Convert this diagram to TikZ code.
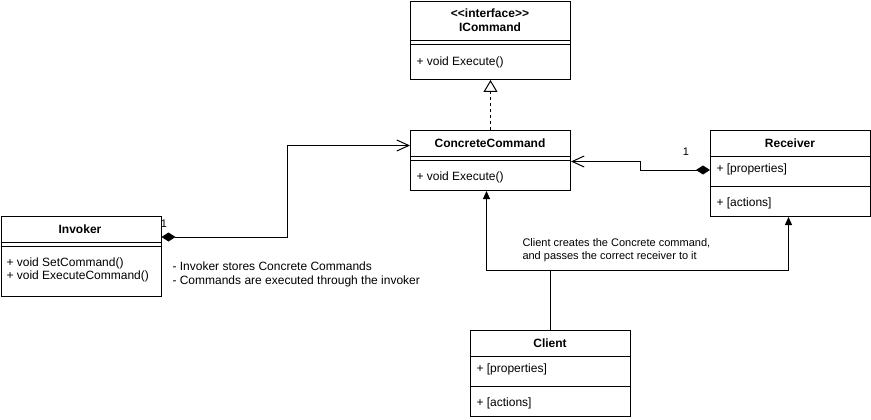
\documentclass[tikz,border=0pt]{standalone}
\usepackage{fontspec}
\setmainfont{Liberation Sans}
\usetikzlibrary{arrows.meta,positioning}

\begin{document}
\begin{tikzpicture}[
    x=1pt, y=-1pt,
    line width=1pt,
    font=\fontsize{12}{14}\selectfont,
    classbox/.style={rectangle, draw=black, anchor=north west, minimum width=160pt, inner sep=0pt},
    classname/.style={font=\fontsize{12}{14}\selectfont\bfseries, align=center, inner sep=0pt},
    member/.style={anchor=west, align=left, inner sep=0pt},
    note/.style={anchor=west, align=left, inner sep=0pt},
    mult/.style={font=\fontsize{11}{13}\selectfont, inner sep=0pt},
    realize/.style={dash pattern=on 3pt off 3pt, -{Triangle[open, length=12pt, width=14pt]}},
    compose/.style={{Diamond[length=14pt, width=9pt]}-{Straight Barb[length=12pt, width=11pt]}},
    uses/.style={-{Triangle[length=8pt, width=7pt]}}
]
\useasboundingbox (0,0) rectangle (871,420);
% Interface
\node[classbox, minimum height=78pt] (icommand) at (410,1) {};
\node[classname] (icommandname) at (490,20) {\textless\kern0pt\textless interface\textgreater\kern0pt\textgreater\\ICommand};
\draw ([yshift=-40pt]icommand.north west) -- ([yshift=-40pt]icommand.north east);
\draw ([yshift=-44pt]icommand.north west) -- ([yshift=-44pt]icommand.north east);
\node[member] (icommandexec) at (416,62) {+ void Execute()};
% Concrete command
\node[classbox, minimum height=60pt] (concrete) at (410,130) {};
\node[classname] (concretename) at (490,143) {ConcreteCommand};
\draw ([yshift=-26pt]concrete.north west) -- ([yshift=-26pt]concrete.north east);
\draw ([yshift=-30pt]concrete.north west) -- ([yshift=-30pt]concrete.north east);
\node[member] (concreteexec) at (416,177) {+ void Execute()};
% Receiver
\node[classbox, minimum height=86pt] (receiver) at (710,130) {};
\node[classname] (receivername) at (790,143) {Receiver};
\draw ([yshift=-26pt]receiver.north west) -- ([yshift=-26pt]receiver.north east);
\node[member] (receiverprops) at (716,169) {+ [properties]};
\draw ([yshift=-56pt]receiver.north west) -- ([yshift=-56pt]receiver.north east);
\node[member] (receiveracts) at (716,203) {+ [actions]};
% Invoker
\node[classbox, minimum height=80pt] (invoker) at (0.5,216) {};
\node[classname] (invokername) at (80,229) {Invoker};
\draw ([yshift=-26pt]invoker.north west) -- ([yshift=-26pt]invoker.north east);
\draw ([yshift=-30pt]invoker.north west) -- ([yshift=-30pt]invoker.north east);
\node[member, font=\fontsize{12}{13.5}\selectfont] (invokerops) at (6,270) {+ void SetCommand()\\+ void ExecuteCommand()};
% Client
\node[classbox, minimum height=86pt] (client) at (470,330) {};
\node[classname] (clientname) at (550,343) {Client};
\draw ([yshift=-26pt]client.north west) -- ([yshift=-26pt]client.north east);
\node[member] (clientprops) at (476,369) {+ [properties]};
\draw ([yshift=-56pt]client.north west) -- ([yshift=-56pt]client.north east);
\node[member] (clientacts) at (476,403) {+ [actions]};
% Notes
\node[note, font=\fontsize{12}{14.4}\selectfont] (invokernote) at (172,274.5) {- Invoker stores Concrete Commands\\- Commands are executed through the invoker};
\node[note, font=\fontsize{11}{13.4}\selectfont] (clientnote) at (522,250) {Client creates the Concrete command,\\and passes the correct receiver to it};
\node[mult] (invokerone) at (164,224) {1};
\node[mult] (receiverone) at (686,152) {1};
% Arrows
\draw[realize] (concrete.north) -- (icommand.south);
\draw[compose] ([yshift=-21pt]invoker.north east) -- ++(126,0) |- ([yshift=15pt]concrete.west);
\draw[compose] ([yshift=-40pt]receiver.north west) -- ++(-70,0) |- ([yshift=-1pt]concrete.east);
\draw[uses] (client.north) -- ++(0,-60) -| ([xshift=-4pt]concrete.south);
\draw[uses] (client.north) -- ++(0,-60) -| ([xshift=-2pt]receiver.south);
\end{tikzpicture}
\end{document}
